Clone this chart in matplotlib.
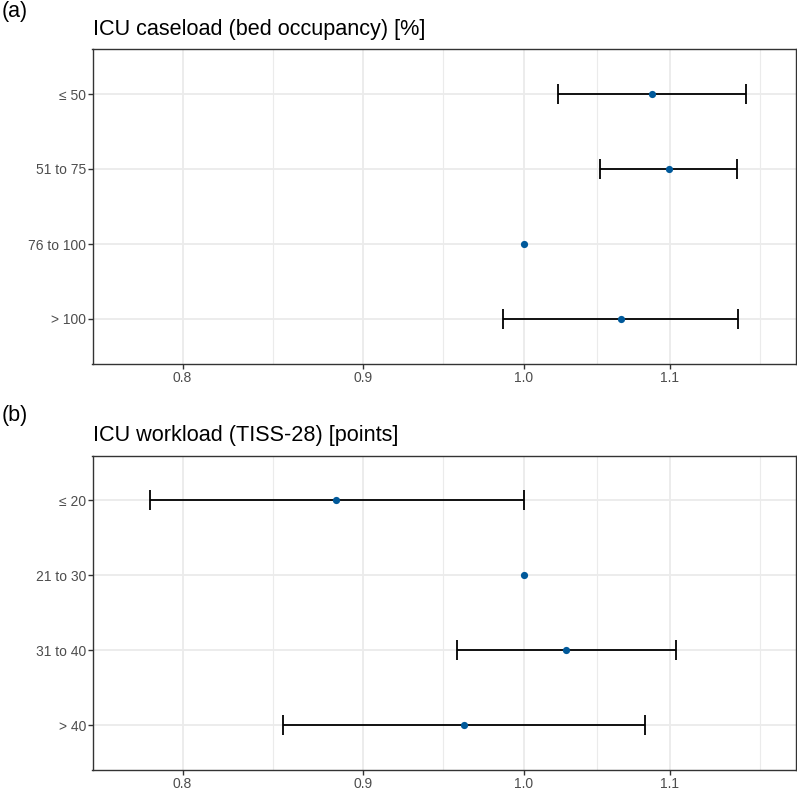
import numpy as np
import matplotlib
matplotlib.use("Agg")
import matplotlib.pyplot as plt

plt.rcParams['font.family'] = ['Liberation Sans', 'DejaVu Sans']

# Panel (a): ICU caseload (bed occupancy)
cats_a = ["≤ 50", "51 to 75", "76 to 100", "> 100"]
est_a = [1.0871, 1.0992, 1.0, 1.0652]
lo_a = [1.0226, 1.0513, np.nan, 0.9862]
hi_a = [1.1560, 1.1494, np.nan, 1.1504]

# Panel (b): ICU workload (TISS-28)
cats_b = ["≤ 20", "21 to 30", "31 to 40", "> 40"]
est_b = [0.8845, 1.0, 1.0278, 0.9613]
lo_b = [0.7830, np.nan, 0.9570, 0.8540]
hi_b = [1.0, np.nan, 1.1043, 1.0825]

xbreaks = [0.8, 0.9, 1.0, 1.1]
xlabels = ["0.8", "0.9", "1.0", "1.1"]

titles = ["ICU caseload (bed occupancy) [%]", "ICU workload (TISS-28) [points]"]
tags = ["(a)", "(b)"]

W, H = 797, 792
fig = plt.figure(figsize=(W / 100, H / 100), dpi=100)

PT = "#00599A"
GRID = "#EBEBEB"
BORDER = "#333333"
TXT = "#4D4D4D"

# minor breaks: midpoints in log space, extended past last major
lb = np.log10(xbreaks)
d0 = lb[1] - lb[0]
ext = np.concatenate([[lb[0] - d0], lb, [lb[-1] + d0]])
minor = 10 ** ((ext[:-1] + ext[1:]) / 2)

panels = [
    (cats_a, est_a, lo_a, hi_a, 49, 364, 17, 35),
    (cats_b, est_b, lo_b, hi_b, 455.5, 770.0, 420.5, 441.5),
]

left_px, right_px = 92.5, 795.7
for i, (cats, est, lo, hi, top, bot, tag_base, title_base) in enumerate(panels):
    ax = fig.add_axes([left_px / W, 1 - bot / H, (right_px - left_px) / W, (bot - top) / H])
    ax.set_xscale("log")
    ypos = np.arange(len(cats))
    est = np.array(est); lo = np.array(lo); hi = np.array(hi)
    m = ~np.isnan(lo)
    ax.errorbar(est[m], ypos[m], xerr=[est[m] - lo[m], hi[m] - est[m]], fmt="none",
                ecolor="black", elinewidth=1.3, capsize=7.5, capthick=1.3, zorder=3)
    ax.plot(est, ypos, "o", color=PT, markersize=5.2, zorder=4, markeredgewidth=0)
    ax.set_ylim(len(cats) - 1 + 0.6, -0.6)
    ax.set_xlim(0.7545, 1.1944)
    ax.set_yticks(ypos)
    ax.set_yticklabels(cats)
    ax.set_xticks(xbreaks)
    ax.set_xticklabels(xlabels)
    ax.set_xticks(minor, minor=True)
    ax.xaxis.set_minor_formatter(matplotlib.ticker.NullFormatter())
    ax.tick_params(axis="x", which="minor", length=0)
    ax.tick_params(axis="both", which="major", length=3.5, width=1.0, color=BORDER,
                   labelcolor=TXT, labelsize=10, pad=1.2)
    ax.set_axisbelow(True)
    ax.grid(True, which="major", color=GRID, linewidth=1.3)
    ax.grid(True, which="minor", axis="x", color=GRID, linewidth=0.8)
    for s in ax.spines.values():
        s.set_color(BORDER)
        s.set_linewidth(1.0)
    fig.text(2 / W, 1 - tag_base / H, tags[i], fontsize=15.5, va="baseline", ha="left", color="black")
    fig.text(93 / W, 1 - title_base / H, titles[i], fontsize=15.6, va="baseline", ha="left", color="black")

fig.savefig("out.png", dpi=100)
